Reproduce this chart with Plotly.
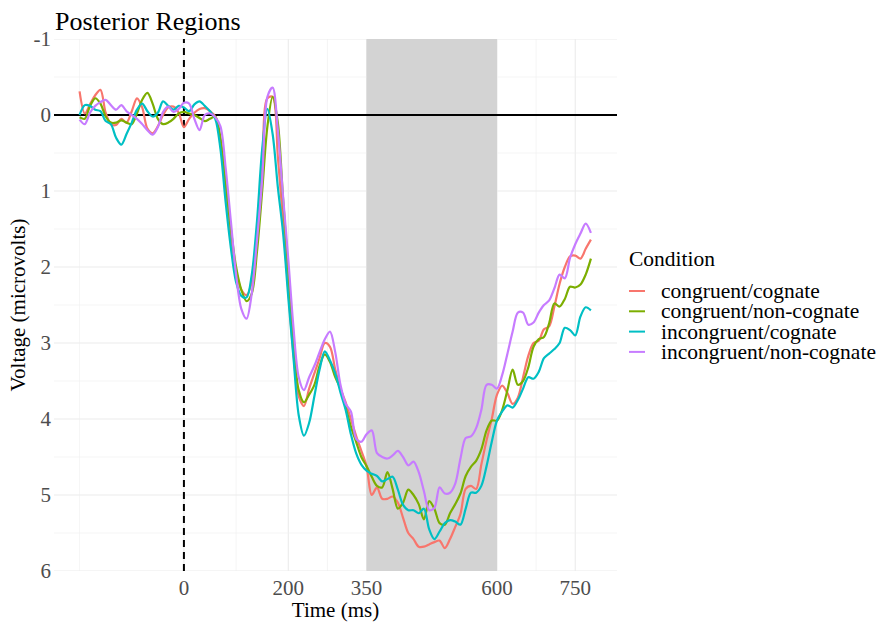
import plotly.graph_objects as go

# ---------------- data ----------------
time_ms = list(range(-200, 790, 10))

congruent_cognate = [
    -0.31, -0.02, -0.14, -0.26, -0.33, -0.03, 0.12, 0.13, 0.05, 0.10,
    -0.05, -0.22, -0.10, 0.18, 0.24, 0.15, 0.00, -0.10, -0.11, -0.03,
    0.16, 0.05, -0.03, -0.08, -0.09, -0.05, 0.02, 0.35, 1.00, 1.60,
    2.05, 2.30, 2.37, 2.20, 1.60, 0.70, -0.22, -0.24, 0.55, 1.40,
    2.30, 3.15, 3.70, 3.83, 3.60, 3.40, 3.20, 3.00, 3.05, 3.35,
    3.60, 3.78, 4.00, 4.22, 4.42, 4.62, 5.00, 4.90, 5.05, 5.05,
    5.02, 5.10, 5.30, 5.50, 5.58, 5.68, 5.68, 5.65, 5.62, 5.60,
    5.70, 5.58, 5.42, 5.25, 4.92, 4.88, 4.92, 4.60, 4.28, 4.00,
    3.68, 3.56, 3.66, 3.80, 3.72, 3.45, 3.17, 3.00, 2.97, 2.82,
    2.78, 2.52, 2.22, 2.00, 1.86, 1.85, 1.89, 1.76, 1.64,
]

congruent_noncognate = [
    0.03, 0.05, -0.12, -0.22, -0.15, 0.02, 0.10, 0.10, 0.07, 0.10,
    0.12, -0.02, -0.20, -0.29, -0.15, 0.05, 0.12, 0.10, 0.05, -0.02,
    -0.04, -0.02, 0.00, 0.04, 0.08, 0.05, 0.02, 0.30, 0.90, 1.50,
    2.00, 2.30, 2.45, 2.35, 1.80, 1.00, 0.15, -0.24, 0.10, 1.10,
    2.05, 3.00, 3.62, 3.78, 3.68, 3.55, 3.30, 3.15, 3.25, 3.45,
    3.60, 3.85, 4.10, 4.30, 4.50, 4.62, 4.76, 4.88, 4.90, 4.70,
    4.92, 5.18, 5.10, 4.93, 5.00, 5.12, 5.32, 5.08, 5.18, 5.37,
    5.39, 5.24, 5.12, 4.98, 4.75, 4.63, 4.55, 4.40, 4.15, 4.02,
    4.02, 3.88, 3.62, 3.35, 3.55, 3.50, 3.32, 3.05, 2.95, 2.92,
    2.74, 2.48, 2.52, 2.42, 2.26, 2.27, 2.23, 2.10, 1.89,
]

incongruent_cognate = [
    0.00, -0.13, -0.12, -0.07, -0.05, 0.08, 0.12, 0.30, 0.39, 0.25,
    0.10, -0.07, -0.15, -0.05, 0.02, -0.03, -0.18, -0.12, -0.07, -0.12,
    -0.10, -0.05, -0.14, -0.18, -0.12, -0.05, 0.05, 0.45, 1.15, 1.75,
    2.20, 2.38, 2.40, 2.10, 1.40, 0.45, -0.08, 0.25, 0.95, 1.55,
    2.40, 3.20, 3.95, 4.22, 4.05, 3.70, 3.35, 3.11, 3.23, 3.40,
    3.65, 3.88, 4.20, 4.45, 4.60, 4.68, 4.72, 4.75, 4.82, 4.79,
    4.76, 4.93, 5.13, 5.20, 5.20, 5.24, 5.18, 5.45, 5.58, 5.48,
    5.37, 5.33, 5.35, 5.39, 5.18, 4.97, 4.97, 4.88, 4.62, 4.30,
    4.02, 3.90, 3.82, 3.85, 3.75, 3.60, 3.45, 3.47, 3.38, 3.20,
    3.14, 3.08, 3.00, 2.80, 2.83, 2.90, 2.65, 2.53, 2.57,
]

incongruent_noncognate = [
    0.06, 0.12, -0.03, -0.12, -0.17, -0.20, -0.13, -0.07, -0.13, -0.05,
    0.00, 0.05, 0.12, 0.20, 0.26, 0.16, -0.04, -0.11, -0.04, -0.08,
    -0.16, -0.15, 0.05, 0.20, 0.00, -0.02, 0.03, 0.15, 0.70, 1.40,
    2.10, 2.55, 2.68, 2.35, 1.65, 0.85, -0.24, -0.36, 0.20, 1.07,
    1.90, 2.80, 3.45, 3.62, 3.45, 3.30, 3.12, 2.95, 2.85, 3.12,
    3.55, 3.80, 3.90, 4.26, 4.30, 4.20, 4.15, 4.45, 4.50, 4.52,
    4.48, 4.42, 4.50, 4.61, 4.56, 4.70, 4.95, 5.20, 5.17, 4.90,
    4.98, 4.97, 4.85, 4.52, 4.25, 4.23, 4.12, 3.88, 3.55, 3.55,
    3.60, 3.42, 3.14, 2.85, 2.60, 2.60, 2.76, 2.73, 2.60, 2.50,
    2.44, 2.28, 2.10, 2.15, 1.88, 1.70, 1.56, 1.43, 1.55,
]

series_names = ["congruent/cognate", "congruent/non-cognate",
                "incongruent/cognate", "incongruent/non-cognate"]
series_values = [congruent_cognate, congruent_noncognate,
                 incongruent_cognate, incongruent_noncognate]
series_colors = ["#F8766D", "#7CAE00", "#00BFC4", "#C77CFF"]

x_ticks = [0, 200, 350, 600, 750]
x_tick_labels = ["0", "200", "350", "600", "750"]
x_minor_ticks = [-200, 100, 275, 475, 675]
y_ticks = [-1, 0, 1, 2, 3, 4, 5, 6]
y_tick_labels = ["-1", "0", "1", "2", "3", "4", "5", "6"]
y_minor_ticks = [-0.5, 0.5, 1.5, 2.5, 3.5, 4.5, 5.5]
window_start, window_end = 350, 600

for s in series_values:
    assert len(s) == len(time_ms)

# ---------------- layout geometry ----------------
FIG_W, FIG_H = 880, 622
L, R, T, B = 54, 263, 39, 51
PW, PH = FIG_W - L - R, FIG_H - T - B
FONT = "Liberation Serif, Times New Roman, serif"
MAJOR_GRID = dict(color="#EBEBEB", width=1.1)
MINOR_GRID = dict(color="#F1F1F1", width=0.7)


def xp(px):
    return (px - L) / PW


def yp(py):
    return 1 - (py - T) / PH


fig = go.Figure()
for name, vals, col in zip(series_names, series_values, series_colors):
    fig.add_trace(go.Scatter(
        x=time_ms, y=vals, mode="lines", name=name,
        line=dict(color=col, width=2.2, shape="spline", smoothing=0.9),
        showlegend=False,
    ))

shapes = []
# grid lines as shapes so that the shaded window and reference lines sit on top
for vals, style in ((x_minor_ticks, MINOR_GRID), (x_ticks, MAJOR_GRID)):
    for v in vals:
        shapes.append(dict(type="line", xref="x", yref="paper", x0=v, x1=v,
                           y0=0, y1=1, line=style, layer="between"))
for vals, style in ((y_minor_ticks, MINOR_GRID), (y_ticks, MAJOR_GRID)):
    for v in vals:
        shapes.append(dict(type="line", xref="paper", yref="y", x0=0, x1=1,
                           y0=v, y1=v, line=style, layer="between"))
shapes += [
    dict(type="rect", xref="x", yref="paper", x0=window_start, x1=window_end,
         y0=0, y1=1, fillcolor="#D3D3D3", line=dict(width=0), layer="between"),
    dict(type="line", xref="paper", yref="y", x0=0, x1=1, y0=0, y1=0,
         line=dict(color="black", width=2), layer="between"),
    dict(type="line", xref="x", yref="paper", x0=0, x1=0, y0=0, y1=1,
         line=dict(color="black", width=2, dash="7px,5px"), layer="between"),
]

annotations = [
    dict(text="Condition", xref="paper", yref="paper", x=xp(627), y=yp(259),
         xanchor="left", yanchor="middle", showarrow=False,
         font=dict(family=FONT, size=21.5, color="black")),
]
legend_y = [291, 311.3, 331.6, 351.9]
for name, col, ly in zip(series_names, series_colors, legend_y):
    shapes.append(dict(type="line", xref="paper", yref="paper",
                       x0=xp(629), x1=xp(645), y0=yp(ly), y1=yp(ly),
                       line=dict(color=col, width=2)))
    annotations.append(dict(text=name, xref="paper", yref="paper",
                            x=xp(659), y=yp(ly), xanchor="left",
                            yanchor="middle", showarrow=False,
                            font=dict(family=FONT, size=21.5, color="black")))

fig.update_layout(
    width=FIG_W, height=FIG_H,
    margin=dict(l=L, r=R, t=T, b=B, autoexpand=False),
    paper_bgcolor="white", plot_bgcolor="white",
    title=dict(text="Posterior Regions", x=55 / FIG_W, xanchor="left",
               xref="container", yref="container", y=1 - 21 / FIG_H,
               yanchor="middle",
               font=dict(family=FONT, size=26, color="black")),
    xaxis=dict(range=[-249, 830], tickmode="array", tickvals=x_ticks,
               ticktext=x_tick_labels, showgrid=False,
               zeroline=False, showline=False, ticks="",
               automargin=False,
               tickfont=dict(family=FONT, size=21, color="#4D4D4D"),
               ticklabelstandoff=2,
               title=dict(text="Time (ms)", standoff=0,
                          font=dict(family=FONT, size=21, color="black"))),
    yaxis=dict(range=[6, -1], tickmode="array", tickvals=y_ticks,
               ticktext=y_tick_labels, showgrid=False,
               zeroline=False, showline=False, ticks="",
               automargin=False,
               tickfont=dict(family=FONT, size=21, color="#4D4D4D"),
               ticklabelstandoff=2,
               title=dict(text="Voltage (microvolts)", standoff=2,
                          font=dict(family=FONT, size=21, color="black"))),
    shapes=shapes,
    annotations=annotations,
)

fig.write_html("out.html",
               config={"displayModeBar": False},
               post_script="document.body.style.margin='0';"
                           "document.body.style.padding='0';")
